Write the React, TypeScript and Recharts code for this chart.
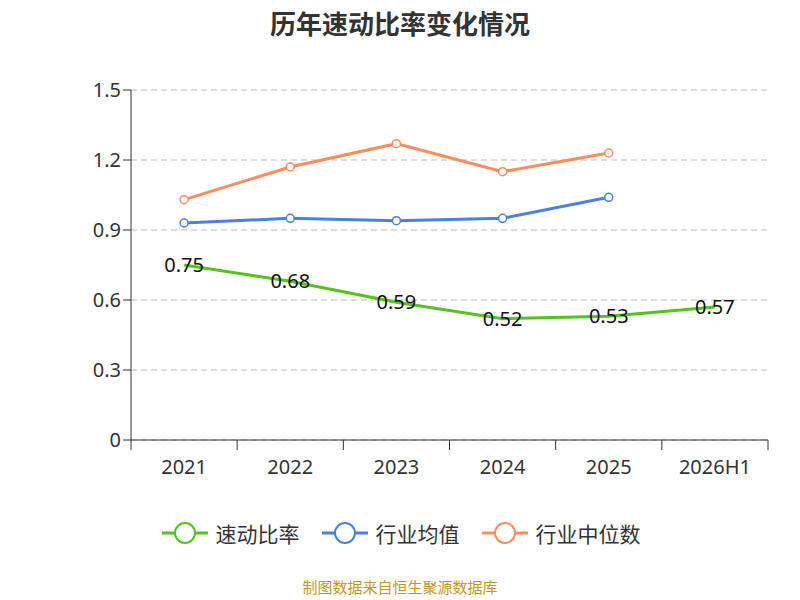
import React from 'react';
import { LineChart, Line, XAxis, YAxis, CartesianGrid, LabelList } from 'recharts';

const years = ['2021', '2022', '2023', '2024', '2025', '2026H1'];
const quickRatio = [0.75, 0.68, 0.59, 0.52, 0.53, 0.57];
const industryAvg = [0.93, 0.95, 0.94, 0.95, 1.04, null];
const industryMedian = [1.03, 1.17, 1.27, 1.15, 1.23, null];
const yTicks = [0, 0.3, 0.6, 0.9, 1.2, 1.5];

const data = years.map((y, i) => ({
  year: y,
  quick: quickRatio[i],
  avg: industryAvg[i],
  median: industryMedian[i],
}));

const BAND = (768 - 131) / years.length;

const XTick = ({ x, y, payload, index }: any) => (
  <g>
    <line x1={x - BAND / 2} x2={x - BAND / 2} y1={y - 8} y2={y + 2} stroke="#333" />
    {index === years.length - 1 && (
      <line x1={x + BAND / 2} x2={x + BAND / 2} y1={y - 8} y2={y + 2} stroke="#333" />
    )}
    <text x={x} y={y + 26} textAnchor="middle" fontSize={20} fill="#333">{payload.value}</text>
  </g>
);

const legend = [
  { name: '速动比率', color: '#52c41a' },
  { name: '行业均值', color: '#4a80e0' },
  { name: '行业中位数', color: '#ff8c5a' },
];

export default function App() {
  return (
    <div style={{ position: 'absolute', left: 0, top: 0, width: 800, height: 600, fontFamily: '"Noto Sans", "Noto Sans CJK SC", sans-serif', background: '#fff' }}>
      <div style={{ position: 'absolute', top: 4, width: 800, textAlign: 'center', fontSize: 26, fontWeight: 'bold', color: '#333', fontFamily: '"Noto Sans CJK SC", sans-serif' }}>历年速动比率变化情况</div>
      <LineChart width={800} height={600} data={data} margin={{ top: 90, right: 32, left: 0, bottom: 130 }}>
        <CartesianGrid vertical={false} stroke="#bbb" strokeDasharray="6 4" />
        <XAxis dataKey="year" height={30} stroke="#333" tickLine={false} tick={<XTick />} interval={0}
          padding={{ left: BAND / 2, right: BAND / 2 }} />
        <YAxis width={131} domain={[0, 1.5]} ticks={yTicks} stroke="#333" tickSize={8}
          tick={{ fontSize: 20, fill: '#333' }} tickFormatter={(v: number) => (v === 0 ? '0' : v.toFixed(1))} />
        <Line dataKey="quick" stroke="#52c41a" strokeWidth={3} dot={false} isAnimationActive={false}>
          <LabelList dataKey="quick" position="center" fontSize={20} fill="#111" />
        </Line>
        <Line dataKey="avg" stroke="#4a80e0" strokeWidth={3} dot={{ r: 4, fill: '#fff', strokeWidth: 1.5 }} isAnimationActive={false} />
        <Line dataKey="median" stroke="#ff8c5a" strokeWidth={3} dot={{ r: 4, fill: '#fff', strokeWidth: 1.5 }} isAnimationActive={false} />
      </LineChart>
      <div style={{ position: 'absolute', top: 518, width: 800, display: 'flex', justifyContent: 'center', gap: 20, fontSize: 21, color: '#333', fontFamily: '"Noto Sans CJK SC", sans-serif' }}>
        {legend.map((l) => (
          <div key={l.name} style={{ display: 'flex', alignItems: 'center' }}>
            <svg width={50} height={30}>
              <line x1={2} x2={48} y1={15} y2={15} stroke={l.color} strokeWidth={3} />
              <circle cx={25} cy={15} r={10} fill="#fff" stroke={l.color} strokeWidth={2} />
            </svg>
            <span style={{ marginLeft: 6 }}>{l.name}</span>
          </div>
        ))}
      </div>
      <div style={{ position: 'absolute', top: 576, width: 800, textAlign: 'center', fontSize: 15, color: '#c8961e', fontFamily: '"Noto Sans CJK SC", sans-serif' }}>制图数据来自恒生聚源数据库</div>
    </div>
  );
}
